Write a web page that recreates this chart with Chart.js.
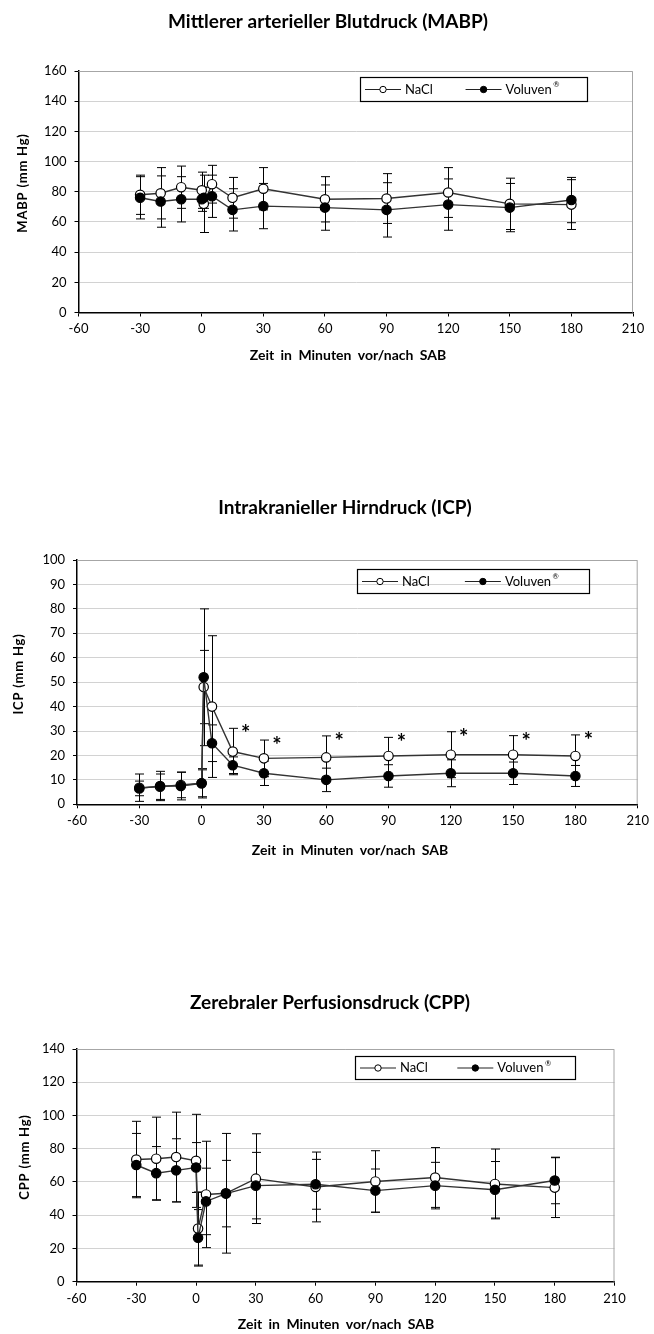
<!DOCTYPE html>
<html>
<head>
<meta charset="utf-8">
<script src="https://cdn.jsdelivr.net/npm/chart.js@4.4.1/dist/chart.umd.min.js"></script>
<style>
  html, body { margin: 0; padding: 0; background: #fff; }
  body { width: 654px; height: 1334px; position: relative; overflow: hidden; }
  canvas { position: absolute; left: 0; }
</style>
</head>
<body>
<canvas id="mabp" width="654" height="370" style="top:0"></canvas>
<canvas id="icp" width="654" height="450" style="top:420px"></canvas>
<canvas id="cpp" width="654" height="414" style="top:920px"></canvas>
<script>
// ---- Daten ----
const minutes = [-30, -20, -10, 0, 1, 5, 15, 30, 60, 90, 120, 150, 180];

// MABP
const mabpNaCl      = [78, 79, 83, 81, 72, 85, 76, 82, 75, 75.5, 79.5, 72, 71.5];
const mabpNaClSd    = [13, 17, 14, 12, 19, 12.5, 13.5, 14, 15, 16.5, 16.5, 17, 16.5];
const mabpVoluven   = [76, 73.5, 75, 75, 76, 77, 68, 70.5, 69.5, 68, 71.5, 69.5, 74.5];
const mabpVoluvenSd = [14, 17, 15, 8, 7, 14, 14, 15, 15, 18, 17, 16, 15];

// ICP
const icpNaCl      = [6.8, 7.2, 7.9, 8.6, 48, 40, 21.6, 18.8, 19.2, 19.8, 20.3, 20.3, 19.8];
const icpNaClSd    = [5.6, 5.2, 5.2, 6, 15, 29, 9.5, 7.5, 8.8, 7.6, 9.4, 7.8, 8.6];
const icpVoluven   = [6.5, 7.5, 7.5, 8.6, 52, 25, 16, 12.7, 10, 11.6, 12.7, 12.7, 11.6];
const icpVoluvenSd = [3, 6, 5.7, 5.5, 28, 7.5, 3.4, 5, 4.8, 4.6, 5.5, 4.6, 4.3];
const icpSignificant = [15, 30, 60, 90, 120, 150, 180];

// CPP
const cppNaCl      = [73.5, 74, 75, 72.7, 32, 52.5, 53.2, 62, 57, 60.3, 62.7, 58.8, 56.6];
const cppNaClSd    = [23, 25, 27, 28, 22, 32, 36, 27, 21, 18.5, 18, 21, 18];
const cppVoluven   = [70.2, 65.3, 67, 68.7, 26.4, 48.3, 53, 57.8, 58.6, 54.8, 57.8, 55.3, 60.9];
const cppVoluvenSd = [19, 16, 19, 15, 17, 20, 20, 20, 15, 13, 14, 17, 14];

const FONT = 'Lato, "Open Sans", sans-serif';

// Fehlerbalken, Rahmen, Titel, Legende, Sternchen
const decor = {
    id: 'decor',
    beforeDatasetsDraw(chart, args, o) {
        const { ctx, chartArea: a, scales: { x, y } } = chart;
        ctx.save();
        // oberer und rechter Rahmen (grau)
        ctx.strokeStyle = '#a6a6a6';
        ctx.lineWidth = 1;
        ctx.beginPath();
        ctx.moveTo(a.left, a.top + 0.5);
        ctx.lineTo(a.right - 0.5, a.top + 0.5);
        ctx.lineTo(a.right - 0.5, a.bottom);
        ctx.stroke();
        // Fehlerbalken (+/- SD)
        ctx.strokeStyle = '#000';
        ctx.lineWidth = 1;
        chart.data.datasets.forEach(ds => {
            ds.data.forEach((p, i) => {
                const sd = ds.sd[i];
                const px = Math.round(x.getPixelForValue(p.x)) + 0.5;
                const hi = y.getPixelForValue(p.y + sd);
                const lo = y.getPixelForValue(Math.max(0, p.y - sd));
                ctx.beginPath();
                ctx.moveTo(px, hi); ctx.lineTo(px, lo);
                ctx.moveTo(px - 4.5, hi); ctx.lineTo(px + 4.5, hi);
                ctx.moveTo(px - 4.5, lo); ctx.lineTo(px + 4.5, lo);
                ctx.stroke();
            });
        });
        ctx.restore();
    },
    afterDraw(chart, args, o) {
        const { ctx, scales: { x, y } } = chart;
        ctx.save();
        ctx.fillStyle = '#000';
        // Diagrammtitel
        ctx.font = `bold 19px ${FONT}`;
        ctx.textAlign = 'center';
        ctx.textBaseline = 'middle';
        ctx.fillText(o.title, o.titleX, o.titleY);
        // x-Achsentitel
        ctx.save();
        ctx.font = `bold 14px ${FONT}`;
        ctx.wordSpacing = '3px';
        ctx.fillText('Zeit in Minuten vor/nach SAB', o.xTitleX, o.xTitleY);
        ctx.restore();
        // y-Achsentitel
        ctx.save();
        ctx.translate(o.yTitleX, o.yTitleY);
        ctx.rotate(-Math.PI / 2);
        ctx.font = `bold 13px ${FONT}`;
        ctx.letterSpacing = '0.8px';
        ctx.textAlign = 'center';
        ctx.textBaseline = 'middle';
        ctx.fillText(o.yTitle, 0, 0);
        ctx.restore();

        // Legende
        const L = o.legend;
        ctx.strokeStyle = '#000';
        ctx.lineWidth = 1.2;
        ctx.strokeRect(L.x + 0.5, L.y + 0.5, L.w, L.h);
        const cy = L.y + L.h / 2 + 0.5;
        const starts = [L.x + 5, L.x + L.w * 0.465];
        chart.data.datasets.forEach((ds, i) => {
            const sx = starts[i];
            ctx.strokeStyle = '#222';
            ctx.lineWidth = 1.2;
            ctx.beginPath();
            ctx.moveTo(sx, cy); ctx.lineTo(sx + 36, cy);
            ctx.stroke();
            ctx.beginPath();
            ctx.arc(sx + 18, cy, 3.2, 0, Math.PI * 2);
            ctx.fillStyle = ds.pointBackgroundColor;
            ctx.fill();
            ctx.strokeStyle = '#000';
            ctx.lineWidth = 1;
            ctx.stroke();
            ctx.fillStyle = '#000';
            ctx.font = `13px ${FONT}`;
            ctx.textAlign = 'left';
            ctx.textBaseline = 'middle';
            ctx.fillText(ds.label, sx + 40, cy);
            if (ds.sup) {
                const w = ctx.measureText(ds.label).width;
                ctx.font = `7.5px ${FONT}`;
                ctx.fillText(ds.sup, sx + 41.5 + w, cy - 4.5);
            }
        });

        // Signifikanz-Sternchen
        if (o.stars) {
            const ds = chart.data.datasets[0];
            ctx.font = `bold 22px ${FONT}`;
            ctx.textAlign = 'center';
            ctx.textBaseline = 'middle';
            o.stars.forEach(m => {
                const i = minutes.indexOf(m);
                const px = x.getPixelForValue(m) + 13;
                const py = y.getPixelForValue(ds.data[i].y + ds.sd[i]);
                ctx.fillText('*', px, py + 6);
            });
        }
        ctx.restore();
    }
};

function series(label, vals, sd, fill, order, sup) {
    return {
        label,
        sup,
        data: minutes.map((m, i) => ({ x: m, y: vals[i] })),
        sd,
        showLine: true,
        borderColor: '#333',
        borderWidth: 1.4,
        pointRadius: 4.7,
        pointHoverRadius: 4.7,
        pointBackgroundColor: fill,
        pointBorderColor: '#000',
        pointBorderWidth: 1.2,
        order
    };
}

function buildChart(id, L) {
    const tickFont = { family: FONT, size: 13 };
    return new Chart(document.getElementById(id), {
        type: 'scatter',
        data: {
            datasets: [
                series('NaCl', L.nacl, L.naclSd, '#fff', 1),
                series('Voluven', L.vol, L.volSd, '#000', 0, '®')
            ]
        },
        options: {
            responsive: false,
            animation: false,
            events: [],
            layout: { padding: { top: L.top, right: 654 - L.right, left: 0, bottom: 0 } },
            plugins: {
                legend: { display: false },
                tooltip: { enabled: false },
                decor: {
                    title: L.title, titleX: L.titleX, titleY: L.titleY,
                    yTitle: L.yTitle, yTitleX: L.yTitleX, yTitleY: L.yTitleY,
                    xTitleX: L.xTitleX, xTitleY: L.xTitleY,
                    legend: L.legend, stars: L.stars
                }
            },
            scales: {
                x: {
                    type: 'linear', min: -60, max: 210,
                    ticks: { stepSize: 30, color: '#000', font: tickFont, padding: 5, maxRotation: 0 },
                    grid: { drawOnChartArea: false, drawTicks: true, tickLength: 4, tickColor: '#000' },
                    border: { color: '#000', width: 1.5 },
                    afterFit(s) { s.height = L.xHeight; }
                },
                y: {
                    min: 0, max: L.yMax,
                    ticks: { stepSize: L.yStep, color: '#000', font: tickFont, padding: 8 },
                    grid: { color: '#d2d2d2', lineWidth: 1, drawTicks: true, tickLength: 4, tickColor: '#000' },
                    border: { color: '#000', width: 1.5 },
                    afterFit(s) { s.width = L.left; }
                }
            }
        },
        plugins: [decor]
    });
}

buildChart('mabp', {
    nacl: mabpNaCl, naclSd: mabpNaClSd, vol: mabpVoluven, volSd: mabpVoluvenSd,
    yMax: 160, yStep: 20,
    left: 78.5, right: 633, top: 71, xHeight: 57.5,
    title: 'Mittlerer arterieller Blutdruck (MABP)', titleX: 328, titleY: 22,
    yTitle: 'MABP (mm Hg)', yTitleX: 23, yTitleY: 183,
    xTitleX: 348, xTitleY: 355,
    legend: { x: 360, y: 77, w: 227, h: 24 }
});

buildChart('icp', {
    nacl: icpNaCl, naclSd: icpNaClSd, vol: icpVoluven, volSd: icpVoluvenSd,
    yMax: 100, yStep: 10,
    left: 77, right: 641.5, top: 140, xHeight: 65.7,
    title: 'Intrakranieller Hirndruck (ICP)', titleX: 345, titleY: 88,
    yTitle: 'ICP (mm Hg)', yTitleX: 19, yTitleY: 254,
    xTitleX: 350, xTitleY: 430,
    legend: { x: 357, y: 149, w: 232, h: 24 },
    stars: icpSignificant
});

buildChart('cpp', {
    nacl: cppNaCl, naclSd: cppNaClSd, vol: cppVoluven, volSd: cppVoluvenSd,
    yMax: 140, yStep: 20,
    left: 76.5, right: 614.5, top: 129, xHeight: 52.3,
    title: 'Zerebraler Perfusionsdruck (CPP)', titleX: 330, titleY: 83,
    yTitle: 'CPP (mm Hg)', yTitleX: 25, yTitleY: 237,
    xTitleX: 336, xTitleY: 404,
    legend: { x: 355, y: 136, w: 220, h: 23 }
});
</script>
</body>
</html>
